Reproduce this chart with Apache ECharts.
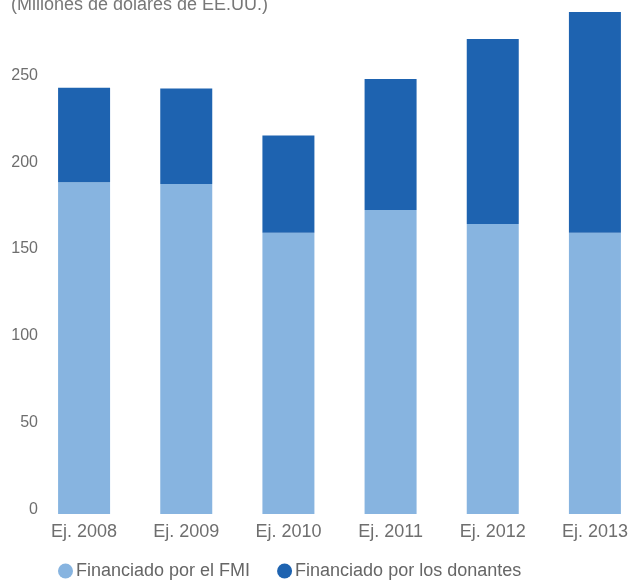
<!DOCTYPE html>
<html>
<head>
<meta charset="utf-8">
<script src="https://cdn.jsdelivr.net/npm/echarts@6/dist/echarts.min.js"></script>
<style>
  html, body { margin: 0; padding: 0; background: #ffffff; }
  #chart { width: 630px; height: 582px; }
</style>
</head>
<body>
<div id="chart"></div>
<script>
// Fiscal years shown on the category axis
const categories = ['Ej. 2008', 'Ej. 2009', 'Ej. 2010', 'Ej. 2011', 'Ej. 2012', 'Ej. 2013'];
// Spending financed by the IMF (millions of US dollars)
const fmiValues = [191, 190, 162, 175, 167, 162];
// Spending financed by donors (millions of US dollars)
const donorValues = [54.5, 55, 56, 75.5, 106.5, 127];
// Series names for the legend
const seriesNames = ['Financiado por el FMI', 'Financiado por los donantes'];
const unitTitle = '(Millones de dólares de EE.UU.)';

const FONT = '"Liberation Sans", Arial, Helvetica, sans-serif';
const LIGHT = '#87b4e0';
const DARK = '#1e63b0';

const chart = echarts.init(document.getElementById('chart'), null, { renderer: 'canvas' });

chart.setOption({
  animation: false,
  backgroundColor: '#ffffff',
  title: {
    text: unitTitle,
    left: 6,
    top: -9,
    textStyle: { fontFamily: FONT, fontSize: 18, fontWeight: 'normal', color: '#777777' }
  },
  legend: {
    left: 53,
    top: 557,
    itemWidth: 15,
    itemHeight: 15,
    itemGap: 27,
    icon: 'circle',
    textStyle: { fontFamily: FONT, fontSize: 18, color: '#666666', padding: [0, 0, 0, -2] },
    data: seriesNames
  },
  grid: {
    left: 33,
    width: 613,
    bottom: 68,
    height: 521,
    outerBoundsMode: 'none',
    containLabel: false
  },
  xAxis: {
    type: 'category',
    data: categories,
    axisLine: { show: false },
    axisTick: { show: false },
    axisLabel: { fontFamily: FONT, fontSize: 18, color: '#6e6e6e', margin: 9 }
  },
  yAxis: {
    type: 'value',
    min: 0,
    max: 300,
    interval: 50,
    splitLine: { show: false },
    axisLine: { show: false },
    axisTick: { show: false },
    axisLabel: {
      fontFamily: FONT,
      fontSize: 16,
      color: '#6e6e6e',
      margin: -5,
      verticalAlign: 'bottom',
      lineHeight: 9,
      showMaxLabel: false
    }
  },
  series: [
    {
      name: seriesNames[0],
      type: 'bar',
      stack: 'total',
      barWidth: 52,
      itemStyle: { color: LIGHT },
      data: fmiValues
    },
    {
      name: seriesNames[1],
      type: 'bar',
      stack: 'total',
      barWidth: 52,
      itemStyle: { color: DARK },
      data: donorValues
    }
  ]
});
</script>
</body>
</html>
